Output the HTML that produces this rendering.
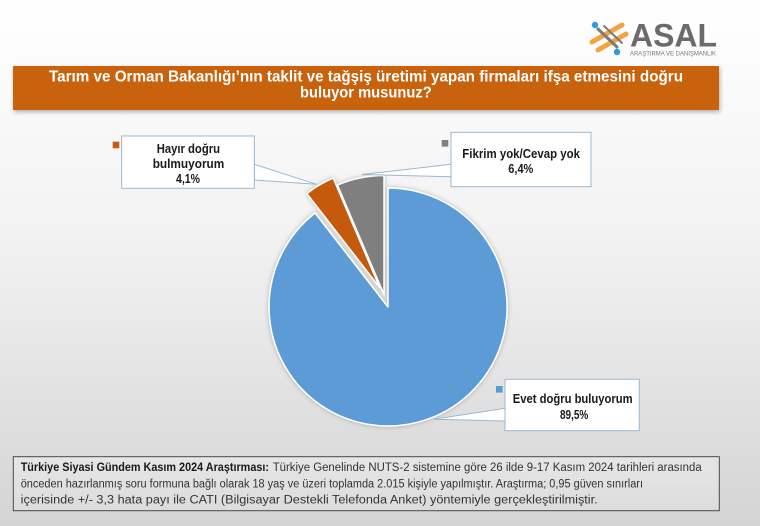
<!DOCTYPE html>
<html><head><meta charset="utf-8"><style>
html,body{margin:0;padding:0;}
body{width:760px;height:526px;overflow:hidden;}
svg{display:block;}
</style></head><body>
<svg width="760" height="526" viewBox="0 0 760 526" xmlns="http://www.w3.org/2000/svg">
<defs>
<linearGradient id="bg" x1="0" y1="0" x2="0" y2="1">
<stop offset="0" stop-color="#ffffff"/>
<stop offset="0.45" stop-color="#f2f2f2"/>
<stop offset="1" stop-color="#d4d4d4"/>
</linearGradient>
<linearGradient id="ft" x1="0" y1="0" x2="0" y2="1">
<stop offset="0" stop-color="#e6e6e6"/>
<stop offset="1" stop-color="#dcdcdc"/>
</linearGradient>
<filter id="sh" x="-20%" y="-20%" width="140%" height="140%">
<feDropShadow dx="1" dy="2" stdDeviation="2" flood-color="#000" flood-opacity="0.3"/>
</filter>
<filter id="ps" x="-20%" y="-20%" width="140%" height="140%">
<feDropShadow dx="0" dy="0" stdDeviation="2.5" flood-color="#000" flood-opacity="0.25"/>
</filter>
</defs>
<rect x="0" y="0" width="760" height="526" fill="url(#bg)"/>

<!-- logo -->
<g stroke-linecap="round" fill="none">
<line x1="592" y1="42" x2="622" y2="25" stroke="#f4a340" stroke-width="5"/>
<line x1="598" y1="50" x2="626" y2="34" stroke="#f4a340" stroke-width="5"/>
<line x1="598" y1="29" x2="617" y2="47" stroke="#7a7a7a" stroke-width="3"/>
<line x1="604" y1="26" x2="622" y2="43" stroke="#7a7a7a" stroke-width="2"/>
</g>
<circle cx="595" cy="25" r="3.2" fill="#2e9be0"/>
<circle cx="617" cy="52" r="3.2" fill="#2e9be0"/>
<text x="630" y="46.7" font-family="Liberation Sans, sans-serif" font-weight="bold" font-size="32" fill="#6b6b6b" textLength="87" lengthAdjust="spacingAndGlyphs">ASAL</text>
<text x="630" y="55.5" font-family="Liberation Sans, sans-serif" font-size="6" fill="#777" textLength="86" lengthAdjust="spacingAndGlyphs">ARAŞTIRMA VE DANIŞMANLIK</text>

<!-- title -->
<rect x="13" y="66" width="706" height="44" fill="#c9620f" filter="url(#sh)"/>
<text x="49" y="81.5" font-family="Liberation Sans, sans-serif" font-weight="bold" font-size="15.5" fill="#ffffff" textLength="634" lengthAdjust="spacingAndGlyphs">Tarım ve Orman Bakanlığı’nın taklit ve tağşiş üretimi yapan firmaları ifşa etmesini doğru</text>
<text x="300" y="97.5" font-family="Liberation Sans, sans-serif" font-weight="bold" font-size="15.5" fill="#ffffff" textLength="131.7" lengthAdjust="spacingAndGlyphs">buluyor musunuz?</text>

<!-- pie -->
<g filter="url(#ps)" stroke="#ffffff" stroke-width="1.5" stroke-linejoin="round">
<path d="M388,307 L388,188 A119,119 0 1 1 315.1,213.0 Z" fill="#5b9bd5"/>
<path d="M379.7,287.6 L306.8,193.6 A119,119 0 0 1 333.2,178.1 Z" fill="#c55a11"/>
<path d="M384,294.5 L337.5,185 A119,119 0 0 1 384,175.5 Z" fill="#7f7f7f"/>
</g>

<!-- callouts -->
<g stroke="#9bb8cf" stroke-width="1">
<path d="M254.3,164.3 L316.5,184.3 L254.3,180 Z" fill="#ffffff"/>
<rect x="121.7" y="136" width="132.6" height="52.3" fill="#ffffff"/>
<path d="M451,164.3 L362,174.5 L451,176.7 Z" fill="#ffffff"/>
<rect x="451" y="132.3" width="140" height="54.4" fill="#ffffff"/>
<path d="M505,408.3 L434,419.3 L505,421 Z" fill="#ffffff"/>
<rect x="505" y="379.3" width="134.3" height="51.4" fill="#ffffff"/>
</g>
<rect x="112.7" y="141.7" width="6.6" height="6.6" fill="#c55a11"/>
<rect x="441.7" y="140" width="6.6" height="6.6" fill="#7f7f7f"/>
<rect x="496" y="386" width="6.6" height="6.6" fill="#5b9bd5"/>

<g font-family="Liberation Sans, sans-serif" font-weight="bold" font-size="12.5" fill="#1a1a1a">
<text x="156.7" y="152.8" textLength="63.3" lengthAdjust="spacingAndGlyphs">Hayır doğru</text>
<text x="152.7" y="167.8" textLength="71.6" lengthAdjust="spacingAndGlyphs">bulmuyorum</text>
<text x="176" y="182.8" textLength="24" lengthAdjust="spacingAndGlyphs">4,1%</text>
<text x="462.3" y="157.8" textLength="117.7" lengthAdjust="spacingAndGlyphs">Fikrim yok/Cevap yok</text>
<text x="508.3" y="172.8" textLength="25" lengthAdjust="spacingAndGlyphs">6,4%</text>
<text x="512.7" y="402.8" textLength="120" lengthAdjust="spacingAndGlyphs">Evet doğru buluyorum</text>
<text x="560" y="418.8" textLength="28.3" lengthAdjust="spacingAndGlyphs">89,5%</text>
</g>

<!-- footer -->
<rect x="13.3" y="456.7" width="706" height="54" fill="url(#ft)" stroke="#4a4a4a" stroke-width="1"/>
<g font-family="Liberation Sans, sans-serif" font-size="11.5" fill="#333">
<text x="20.7" y="471" font-weight="bold" fill="#1a1a1a" textLength="248.3" lengthAdjust="spacingAndGlyphs">Türkiye Siyasi Gündem Kasım 2024 Araştırması:</text>
<text x="272.7" y="471" textLength="429" lengthAdjust="spacingAndGlyphs">Türkiye Genelinde  NUTS-2 sistemine göre 26 ilde 9-17 Kasım 2024 tarihleri arasında</text>
<text x="20.7" y="487.5" textLength="622.3" lengthAdjust="spacingAndGlyphs">önceden  hazırlanmış soru formuna bağlı olarak 18 yaş ve üzeri toplamda 2.015 kişiyle yapılmıştır. Araştırma; 0,95 güven sınırları</text>
<text x="20.7" y="503.5" textLength="577" lengthAdjust="spacingAndGlyphs">içerisinde +/- 3,3 hata payı ile CATI (Bilgisayar Destekli Telefonda  Anket) yöntemiyle gerçekleştirilmiştir.</text>
</g>
</svg>
</body></html>
